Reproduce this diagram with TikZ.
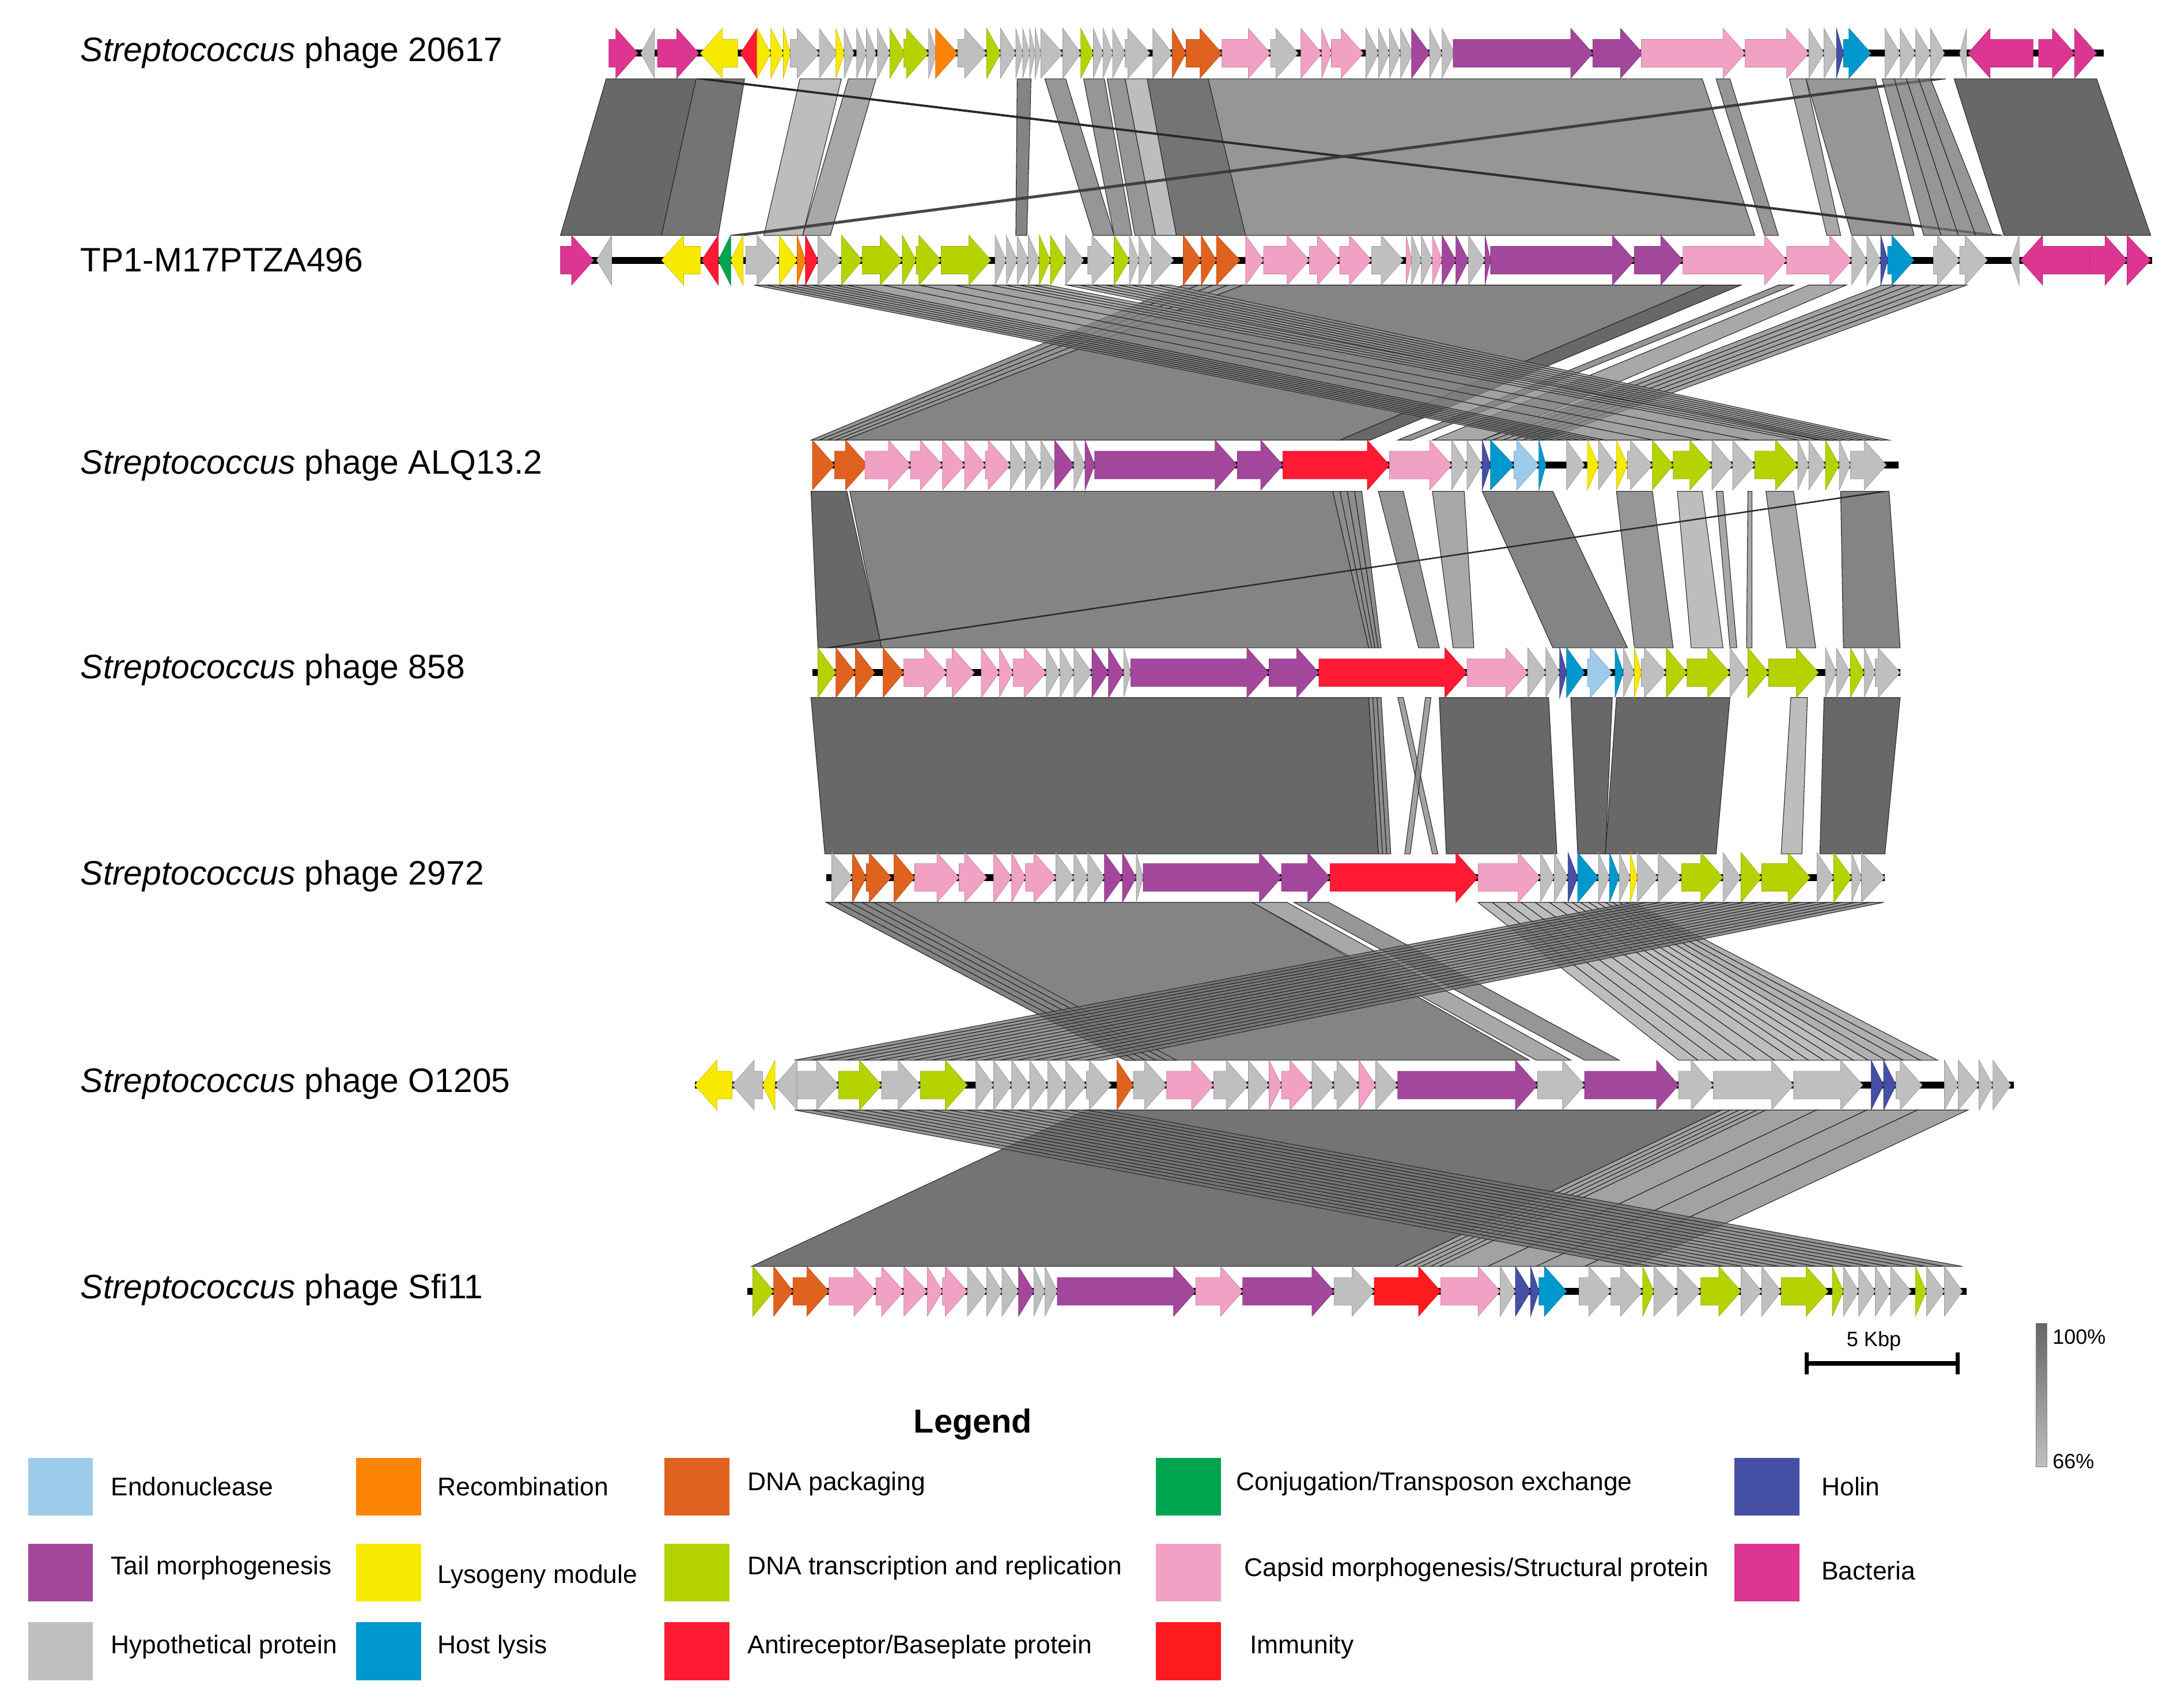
\documentclass[tikz,border=0pt]{standalone}
\usepackage{fontspec}
\setmainfont{Liberation Sans}
\definecolor{cE}{HTML}{9DCBEA}
\definecolor{cR}{HTML}{FB8407}
\definecolor{cP}{HTML}{E0621F}
\definecolor{cC}{HTML}{00A550}
\definecolor{cH}{HTML}{454FA5}
\definecolor{cT}{HTML}{A3479C}
\definecolor{cY}{HTML}{F7EA00}
\definecolor{cG}{HTML}{B5D300}
\definecolor{cK}{HTML}{F1A1C4}
\definecolor{cB}{HTML}{DD3592}
\definecolor{cX}{HTML}{BFBFBF}
\definecolor{cL}{HTML}{0098CC}
\definecolor{cA}{HTML}{FF1A33}
\definecolor{cI}{HTML}{FF1A1F}
\definecolor{s1}{HTML}{686868}
\definecolor{s2}{HTML}{747474}
\definecolor{s3}{HTML}{848484}
\definecolor{s4}{HTML}{969696}
\definecolor{s5}{HTML}{A8A8A8}
\definecolor{s6}{HTML}{BDBDBD}
\definecolor{gtop}{HTML}{666666}
\definecolor{gbot}{HTML}{C0C0C0}
\newcommand\gene[5]{%
 \pgfmathsetmacro\glen{#2-#1}%
 \if#4r%
  \ifdim\glen pt<18pt
   \filldraw[gn,fill=#5,draw=#5!80!black] (#1,#3-18) -- (#2,#3) -- (#1,#3+18) -- cycle;
  \else
   \filldraw[gn,fill=#5,draw=#5!80!black] (#1,#3-10) -- (#2-16,#3-10) -- (#2-16,#3-18) -- (#2,#3) -- (#2-16,#3+18) -- (#2-16,#3+10) -- (#1,#3+10) -- cycle;
  \fi
 \else
  \ifdim\glen pt<18pt
   \filldraw[gn,fill=#5,draw=#5!80!black] (#2,#3-18) -- (#1,#3) -- (#2,#3+18) -- cycle;
  \else
   \filldraw[gn,fill=#5,draw=#5!80!black] (#2,#3-10) -- (#1+16,#3-10) -- (#1+16,#3-18) -- (#1,#3) -- (#1+16,#3+18) -- (#1+16,#3+10) -- (#2,#3+10) -- cycle;
  \fi
 \fi}
\newcommand\strips[8]{%
 \foreach \i in {1,...,#7}{%
   \pgfmathsetmacro\ta{#1+(#2-#1)*(\i-1)/#7}%
   \pgfmathsetmacro\tb{#1+(#2-#1)*\i/#7}%
   \pgfmathsetmacro\ba{#3+(#4-#3)*(\i-1)/#7}%
   \pgfmathsetmacro\bb{#3+(#4-#3)*\i/#7}%
   \filldraw[blk,fill=#8,fill opacity=0.75] (\ta,#5) -- (\tb,#5) -- (\bb,#6) -- (\ba,#6) -- cycle;}}
\newcommand\blocks[3]{%
 \foreach \a/\b/\c/\d/\s in {#3}{%
   \filldraw[blk,fill=\s] (\a,#1) -- (\b,#1) -- (\d,#2) -- (\c,#2) -- cycle;}}
\newcommand\track[4]{%
 \draw[line width=5pt] (#2,#1) -- (#3,#1);
 \foreach \a/\b/\d/\c in {#4}{\gene{\a}{\b}{#1}{\d}{\c}}}
\begin{document}
\begin{tikzpicture}[x=1pt,y=-1pt,
  gn/.style={line width=0.3pt},
  blk/.style={draw=black!85,line width=0.45pt},
  lab/.style={anchor=west,inner sep=0pt,font=\fontsize{24.5}{29}\selectfont},
  leg/.style={anchor=west,inner sep=0pt,font=\fontsize{18.5}{22}\selectfont},
  sw/.style={minimum width=47pt,minimum height=42pt,inner sep=0pt,anchor=north west},
  small/.style={inner sep=0pt,font=\fontsize{15}{18}\selectfont}]
\useasboundingbox[fill=white] (0,0) rectangle (1568,1234);

% ---------- comparison bands ----------
% band 1-2
\blocks{57}{170}{438/503/405/478/s1, 503/538/478/519/s2, 578/608/552/580/s6, 613/633/580/600/s5,
 735/745/734/742/s3, 755/770/790/805/s4, 783/798/805/818/s4, 800/813/820/835/s4, 813/829/835/850/s6,
 829/873/850/900/s2, 873/1230/900/1268/s4, 1240/1250/1275/1285/s4, 1293/1305/1320/1330/s5,
 1305/1355/1338/1383/s4, 1412/1515/1448/1554/s1}
\strips{503}{512}{1436}{1447}{57}{170}{2}{s3}
\strips{1395}{1406}{528}{540}{57}{170}{2}{s3}
\strips{1360}{1395}{1390}{1440}{57}{170}{4}{s2}
% band 2-3
\blocks{206}{318}{898/1232/610/968/s3, 1232/1258/968/990/s1, 1285/1296/1010/1020/s4,
 1307/1334/1035/1071/s5}
\strips{855}{898}{586}{610}{206}{318}{4}{s2}
\strips{1360}{1421}{1071}{1115}{206}{318}{6}{s3}
\strips{545}{612}{1112}{1160}{206}{318}{8}{s3}
\strips{612}{716}{1160}{1300}{206}{318}{4}{s3}
\strips{716}{757}{1300}{1330}{206}{318}{4}{s4}
\strips{771}{846}{1317}{1365}{206}{318}{8}{s4}
% band 3-4
\blocks{355}{468}{586/612/591/637/s1, 614/963/637/989/s3, 996/1014/1025/1040/s4, 1035/1058/1050/1065/s5,
 1071/1122/1122/1176/s3, 1168/1194/1181/1209/s4, 1212/1230/1222/1245/s6, 1240/1245/1250/1255/s5,
 1263/1266/1262/1266/s5, 1276/1296/1291/1312/s5, 1330/1365/1332/1373/s3}
\strips{963}{984}{989}{998}{355}{468}{4}{s1}
\strips{1360}{1364}{597}{601}{355}{468}{1}{s3}
% band 4-5
\blocks{504}{617}{586/989/596/996/s1, 1040/1119/1045/1125/s1, 1135/1165/1140/1160/s1,
 1168/1250/1160/1240/s1, 1294/1306/1287/1302/s6, 1318/1373/1315/1362/s1}
\strips{989}{998}{996}{1005}{504}{617}{3}{s1}
\strips{1010}{1014}{1035}{1039}{504}{617}{1}{s3}
\strips{1030}{1034}{1015}{1019}{504}{617}{1}{s3}
% band 5-6
\blocks{652}{766}{597/905/813/1105/s3, 905/930/1110/1135/s5, 935/960/1145/1170/s4}
\strips{597}{640}{813}{850}{652}{766}{5}{s3}
\strips{1068}{1130}{1213}{1296}{652}{766}{6}{s5}
\strips{1130}{1160}{1296}{1350}{652}{766}{5}{s5}
\strips{1160}{1180}{1350}{1400}{652}{766}{4}{s4}
\strips{1180}{1361}{574}{797}{652}{766}{18}{s2}
% band 6-7
\blocks{802}{915}{785/1244/543/1008/s2}
\strips{1244}{1276}{1008}{1040}{802}{915}{5}{s3}
\strips{1276}{1422}{1040}{1180}{802}{915}{4}{s3}
\strips{574}{797}{1180}{1418}{802}{915}{18}{s2}

% ---------- tracks ----------
\track{38.5}{440}{1520}{440/461/r/cB, 463/473/l/cX, 475/505/r/cB, 506/533/l/cY, 535/547/l/cA,
 547/557/r/cY, 557/566/r/cY, 566/571/r/cY, 571/592/r/cX, 592/605/r/cX, 604/610/r/cY, 610/617/r/cX,
 619/626/r/cX, 626/633/r/cX, 634/643/r/cX, 643/654/r/cG, 653/671/r/cG, 671/677/r/cX, 676/692/r/cR,
 692/713/r/cX, 713/723/r/cG, 723/734/r/cX, 734/739/r/cX, 739/744/r/cX, 744/748/r/cX, 748/752/r/cX,
 752/768/r/cX, 768/781/r/cX, 781/790/r/cG, 790/797/r/cX, 797/804/r/cX, 804/813/r/cX, 813/831/r/cX,
 833/847/r/cX, 847/857/r/cP, 857/883/r/cP, 883/918/r/cK, 918/938/r/cX, 940/955/r/cK, 955/962/r/cK,
 962/985/r/cK, 987/996/r/cX, 996/1004/r/cX, 1004/1012/r/cX, 1012/1021/r/cX, 1020/1033/r/cT,
 1033/1042/r/cX, 1042/1051/r/cX, 1050/1151/r/cT, 1151/1187/r/cT, 1186/1261/r/cK, 1261/1307/r/cK,
 1307/1318/r/cX, 1318/1328/r/cX, 1327/1332/r/cH, 1332/1352/r/cL, 1362/1373/r/cX, 1373/1384/r/cX,
 1384/1395/r/cX, 1395/1405/r/cX, 1416/1421/l/cX, 1422/1469/l/cB, 1473/1499/r/cB, 1499/1515/r/cB}
\track{188}{405}{1555}{405/429/r/cB, 431/442/l/cX, 478/506/l/cY, 507/519/l/cA, 519/528/l/cC,
 528/537/l/cY, 539/563/r/cX, 563/576/r/cY, 576/582/r/cR, 582/591/r/cA, 591/608/r/cX, 608/623/r/cG,
 623/652/r/cG, 652/662/r/cG, 662/680/r/cG, 680/716/r/cG, 719/727/r/cX, 727/735/r/cX, 735/743/r/cX,
 743/751/r/cX, 751/759/r/cG, 759/770/r/cG, 770/783/r/cX, 786/805/r/cX, 805/816/r/cG, 816/823/r/cX,
 823/832/r/cX, 832/848/r/cX, 855/868/r/cP, 868/879/r/cP, 879/896/r/cP, 900/913/r/cK, 913/946/r/cK,
 946/968/r/cK, 968/991/r/cK, 991/1014/r/cX, 1016/1020/r/cK, 1020/1027/r/cX, 1027/1035/r/cX,
 1035/1042/r/cK, 1042/1052/r/cT, 1052/1061/r/cT, 1061/1073/r/cX, 1073/1077/r/cT, 1077/1181/r/cT,
 1181/1216/r/cT, 1216/1291/r/cK, 1291/1338/r/cK, 1338/1349/r/cX, 1349/1359/r/cX, 1359/1364/r/cH,
 1364/1383/r/cL, 1397/1416/r/cX, 1416/1436/r/cX, 1453/1459/l/cX, 1460/1510/l/cB, 1510/1537/r/cB,
 1537/1554/r/cB}
\track{336}{587}{1372}{587/603/r/cP, 603/627/r/cP, 625/658/r/cK, 658/681/r/cK, 681/697/r/cK,
 697/712/r/cK, 712/730/r/cK, 730/741/r/cX, 741/752/r/cX, 752/763/r/cX, 762/776/r/cT, 776/784/r/cX,
 784/791/r/cT, 791/894/r/cT, 894/927/r/cT, 927/1004/r/cA, 1004/1049/r/cK, 1049/1060/r/cX,
 1060/1071/r/cX, 1071/1077/r/cH, 1077/1094/r/cL, 1094/1112/r/cE, 1112/1117/r/cL, 1132/1145/r/cX,
 1147/1155/r/cY, 1155/1168/r/cX, 1168/1176/r/cY, 1176/1194/r/cX, 1194/1209/r/cG, 1209/1237/r/cG,
 1237/1252/r/cX, 1252/1268/r/cX, 1268/1299/r/cG, 1299/1307/r/cX, 1307/1319/r/cX, 1319/1329/r/cG,
 1329/1337/r/cX, 1337/1363/r/cX}
\track{486}{587}{1373}{591/604/r/cG, 604/618/r/cP, 618/632/r/cP, 638/653/r/cP, 653/684/r/cK,
 684/704/r/cK, 709/722/r/cK, 722/732/r/cK, 732/756/r/cK, 756/766/r/cX, 766/776/r/cX, 776/789/r/cX,
 789/801/r/cT, 801/812/r/cT, 812/817/r/cX, 817/917/r/cT, 917/953/r/cT, 953/1060/r/cA, 1060/1104/r/cK,
 1104/1117/r/cX, 1117/1127/r/cX, 1127/1132/r/cH, 1132/1145/r/cL, 1147/1165/r/cE, 1167/1173/r/cL,
 1173/1181/r/cX, 1181/1186/r/cY, 1186/1204/r/cX, 1204/1219/r/cG, 1219/1250/r/cG, 1250/1263/r/cX,
 1263/1278/r/cG, 1278/1314/r/cG, 1319/1327/r/cX, 1327/1337/r/cX, 1337/1347/r/cG, 1347/1355/r/cX,
 1355/1373/r/cX}
\track{634}{597}{1362}{601/616/r/cX, 616/626/r/cP, 626/644/r/cP, 646/661/r/cP, 661/693/r/cK,
 693/713/r/cK, 718/731/r/cK, 731/741/r/cK, 741/763/r/cK, 763/776/r/cX, 776/786/r/cX, 786/798/r/cX,
 798/811/r/cT, 811/821/r/cT, 821/826/r/cX, 826/926/r/cT, 926/961/r/cT, 961/1068/r/cA, 1068/1113/r/cK,
 1113/1123/r/cX, 1123/1133/r/cX, 1133/1140/r/cH, 1140/1155/r/cL, 1155/1163/r/cX, 1163/1170/r/cL,
 1170/1178/r/cX, 1178/1183/r/cY, 1183/1198/r/cX, 1198/1215/r/cX, 1215/1245/r/cG, 1245/1258/r/cX,
 1258/1273/r/cG, 1273/1308/r/cG, 1313/1325/r/cX, 1325/1338/r/cG, 1338/1345/r/cX, 1345/1362/r/cX}
\track{784}{502}{1455}{502/529/l/cY, 529/551/l/cX, 551/560/l/cY, 560/576/l/cX, 576/606/r/cX,
 606/637/r/cG, 637/665/r/cX, 665/699/r/cG, 705/718/r/cX, 718/731/r/cX, 731/744/r/cX, 744/757/r/cX,
 757/770/r/cX, 770/785/r/cX, 785/803/r/cX, 807/819/r/cP, 819/843/r/cX, 843/877/r/cK, 877/902/r/cX,
 902/917/r/cX, 917/926/r/cK, 926/948/r/cK, 948/964/r/cX, 964/982/r/cX, 982/994/r/cK, 994/1010/r/cX,
 1010/1111/r/cT, 1111/1145/r/cX, 1145/1213/r/cT, 1213/1238/r/cX, 1238/1296/r/cX, 1296/1346/r/cX,
 1352/1361/r/cH, 1361/1370/r/cH, 1370/1389/r/cX, 1405/1415/r/cX, 1415/1430/r/cX, 1430/1440/r/cX,
 1440/1453/r/cX}
\track{933}{540}{1421}{544/559/r/cG, 559/573/r/cP, 573/599/r/cP, 599/633/r/cK, 633/653/r/cK,
 653/670/r/cK, 670/681/r/cK, 681/699/r/cK, 699/713/r/cX, 713/724/r/cX, 724/736/r/cX, 736/747/r/cT,
 747/755/r/cX, 755/764/r/cX, 764/864/r/cT, 864/898/r/cK, 898/964/r/cT, 964/993/r/cX, 993/1041/r/cI,
 1041/1084/r/cK, 1084/1095/r/cX, 1095/1106/r/cH, 1106/1112/r/cH, 1112/1132/r/cL, 1141/1164/r/cX,
 1164/1187/r/cX, 1187/1195/r/cG, 1195/1212/r/cX, 1212/1229/r/cX, 1229/1258/r/cG, 1258/1273/r/cX,
 1273/1287/r/cX, 1287/1321/r/cG, 1324/1332/r/cG, 1332/1343/r/cX, 1343/1355/r/cX, 1355/1366/r/cX,
 1366/1381/r/cX, 1384/1392/r/cG, 1392/1405/r/cX, 1405/1418/r/cX}

% ---------- track labels ----------
\node[lab] (n1) at (58,38) {\textit{Streptococcus} phage 20617};
\node[lab] (n2) at (58,188) {TP1-M17PTZA496};
\node[lab] (n3) at (58,336) {\textit{Streptococcus} phage ALQ13.2};
\node[lab] (n4) at (58,484) {\textit{Streptococcus} phage 858};
\node[lab] (n5) at (58,633) {\textit{Streptococcus} phage 2972};
\node[lab] (n6) at (58,783) {\textit{Streptococcus} phage O1205};
\node[lab] (n7) at (58,932) {\textit{Streptococcus} phage Sfi11};

% ---------- scale bar & identity gradient ----------
\node[small] (kbp) at (1354,969) {5 Kbp};
\coordinate (sbl) at (1305,985);
\coordinate (sbr) at (1415,985);
\draw[line width=3.5pt] (sbl) -- (sbr);
\draw[line width=3pt] (1305.5,977) -- (1305.5,993) (1414.5,977) -- (1414.5,993);
\shade[top color=gtop,bottom color=gbot,draw=gray,line width=0.4pt] (1471,956) rectangle (1479,1060);
\node[small,anchor=west] (p100) at (1483,966) {100\%};
\node[small,anchor=west] (p66) at (1483,1056) {66\%};

% ---------- legend ----------
\node[inner sep=0pt,font=\bfseries\fontsize{24}{28}\selectfont] (legt) at (703,1029) {Legend};
\node[sw,fill=cE] (e1) at (20,1053) {};   \node[leg] (t1) at (80,1074) {Endonuclease};
\node[sw,fill=cR] (e2) at (257,1053) {};  \node[leg] (t2) at (316,1074) {Recombination};
\node[sw,fill=cP] (e3) at (480,1053) {};  \node[leg] (t3) at (540,1072) {DNA packaging};
\node[sw,fill=cC] (e4) at (835,1053) {};  \node[leg] (t4) at (893,1072) {Conjugation/Transposon exchange};
\node[sw,fill=cH] (e5) at (1253,1053) {}; \node[leg] (t5) at (1316,1074) {Holin};
\node[sw,fill=cT] (e6) at (20,1115) {};   \node[leg] (t6) at (80,1133) {Tail morphogenesis};
\node[sw,fill=cY] (e7) at (257,1115) {};  \node[leg] (t7) at (316,1139) {Lysogeny module};
\node[sw,fill=cG] (e8) at (480,1115) {};  \node[leg] (t8) at (540,1133) {DNA transcription and replication};
\node[sw,fill=cK] (e9) at (835,1115) {};  \node[leg] (t9) at (899,1134) {Capsid morphogenesis/Structural protein};
\node[sw,fill=cB] (e10) at (1253,1115) {}; \node[leg] (t10) at (1316,1135) {Bacteria};
\node[sw,fill=cX] (e11) at (20,1172) {};  \node[leg] (t11) at (80,1190) {Hypothetical protein};
\node[sw,fill=cL] (e12) at (257,1172) {}; \node[leg] (t12) at (316,1190) {Host lysis};
\node[sw,fill=cA] (e13) at (480,1172) {}; \node[leg] (t13) at (540,1190) {Antireceptor/Baseplate protein};
\node[sw,fill=cI] (e14) at (835,1172) {}; \node[leg] (t14) at (903,1190) {Immunity};
\end{tikzpicture}
\end{document}
